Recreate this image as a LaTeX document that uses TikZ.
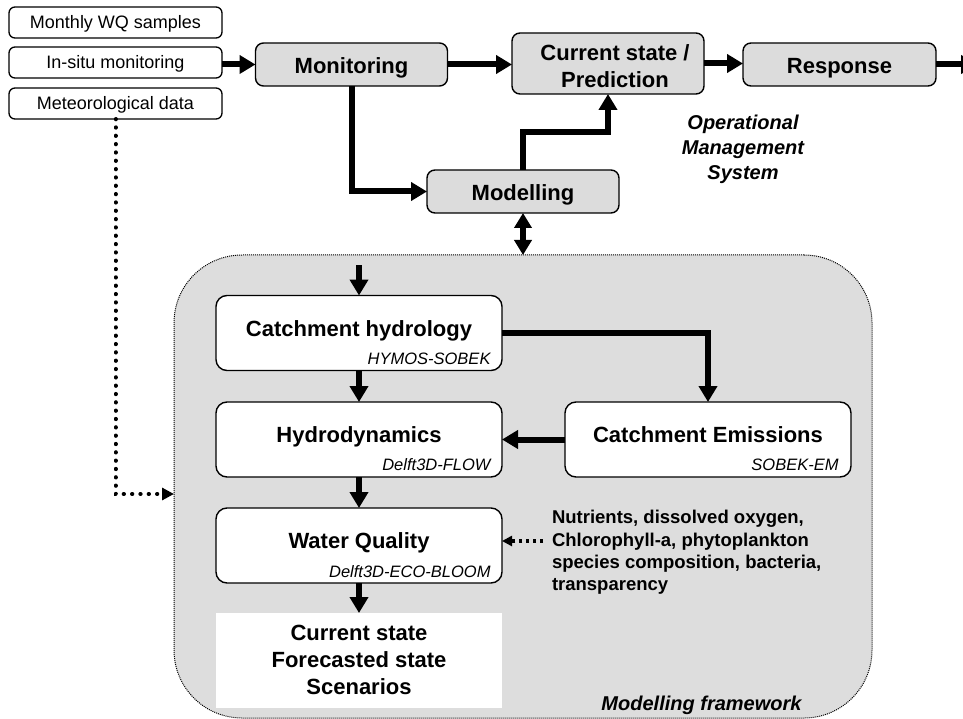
\documentclass[tikz,border=0pt]{standalone}
\usepackage{fontspec}
\setmainfont{Liberation Sans}
\usetikzlibrary{arrows.meta,calc}
\definecolor{boxgray}{RGB}{220,220,220}
\definecolor{framegray}{RGB}{221,221,221}
\tikzset{
  every node/.style={inner sep=0pt, outer sep=0pt},
  srcbox/.style={draw, line width=1.3pt, rounded corners=6pt, fill=white,
    minimum width=213pt, minimum height=31pt,
    font=\fontsize{18}{21}\selectfont, text height=12.9pt, text depth=0pt},
  graybox/.style={draw, line width=1.4pt, rounded corners=8pt, fill=boxgray,
    minimum width=192pt, minimum height=43pt,
    font=\bfseries\fontsize{22}{27}\selectfont, text height=19pt, text depth=0pt},
  modbox/.style={draw, line width=1.4pt, rounded corners=11pt, fill=white,
    minimum width=286pt, minimum height=75pt},
  titletext/.style={font=\bfseries\fontsize{22}{27}\selectfont, text height=15.75pt, text depth=0pt},
  subtext/.style={font=\itshape\fontsize{16.5}{20}\selectfont, text height=11.8pt, text depth=0pt, anchor=east},
  arr/.style={line width=6pt, -{Triangle[length=16pt,width=18pt]}},
  dblarr/.style={line width=6pt, {Triangle[length=15pt,width=17pt]}-{Triangle[length=15pt,width=17pt]}},
  dotarr/.style={line width=4pt, line cap=round, dash pattern=on 0.3pt off 8.03pt, -{Triangle[length=12pt,width=12pt]}},
  sqarr/.style={line width=3.3pt, dash pattern=on 3.3pt off 3.6pt, -{Triangle[length=10pt,width=10pt]}},
}
\begin{document}
\begin{tikzpicture}[x=1pt,y=-1pt]
\useasboundingbox (0,0) rectangle (963,719);

% modelling framework background
\node[draw, fill=framegray, line width=1pt, dash pattern=on 1pt off 1pt,
      rounded corners=68pt, minimum width=698pt, minimum height=463pt] (frame) at (523,486.5) {};
\node[font=\bfseries\itshape\fontsize{20}{24}\selectfont, text height=14.3pt, text depth=0pt] (fwlabel) at (701.5,703.7) {Modelling framework};

% source boxes
\node[srcbox] (monthly) at (115.5,22.5) {Monthly WQ samples};
\node[srcbox] (insitu) at (115.5,62.5) {In-situ monitoring};
\node[srcbox] (meteo) at (115.5,103.5) {Meteorological data};

% operational boxes
\node[graybox] (monitoring) at (351.5,64.5) {Monitoring};
\node[graybox, minimum height=61pt] (current) at (608,63.5) {};
\node[align=center, anchor=north, font=\bfseries\fontsize{22}{27}\selectfont] (curtxt) at (615,44.5) {Current state /\\Prediction};
\node[graybox, minimum width=193pt] (response) at (839.5,64.5) {Response};
\node[graybox] (modelling) at (523,191.5) {Modelling};

\node[align=center, anchor=north, font=\bfseries\itshape\fontsize{20}{25}\selectfont] (oms) at (743,115.5) {Operational\\Management\\System};

\coordinate (out) at (977,64.5);

% operational connectors
\draw[arr] (monitoring.west -| insitu.east) -- (monitoring.west);
\draw[arr] (monitoring.east) -- (monitoring.east -| current.west);
\draw[arr] (current.east) -- (current.east -| response.west);
\draw[arr] (response.east) -- (out);
\draw[arr] (monitoring.south) |- (modelling.west);
\draw[arr] (modelling.north) |- ($(modelling.north)!0.5!(current.south)$) -| (current.south);
\draw[dblarr] (modelling.south) -- (frame.north);

% model boxes
\node[modbox] (ch) at (359,333) {};
\node[titletext] (chtitle) at ([yshift=4pt]ch.center) {Catchment hydrology};
\node[subtext] (chsub) at ([xshift=-11.5pt,yshift=12pt]ch.south east) {HYMOS-SOBEK};

\node[modbox] (hydro) at (359,439.5) {};
\node[titletext] (hydrotitle) at ([yshift=5pt]hydro.center) {Hydrodynamics};
\node[subtext] (hydrosub) at ([xshift=-11.5pt,yshift=12pt]hydro.south east) {Delft3D-FLOW};

\node[modbox] (ce) at (708,439.5) {};
\node[titletext] (cetitle) at ([yshift=5pt]ce.center) {Catchment Emissions};
\node[subtext] (cesub) at ([xshift=-12.5pt,yshift=12.5pt]ce.south east) {SOBEK-EM};

\node[modbox] (wq) at (359,545.5) {};
\node[titletext] (wqtitle) at ([yshift=4.7pt]wq.center) {Water Quality};
\node[subtext] (wqsub) at ([xshift=-11.5pt,yshift=11pt]wq.south east) {Delft3D-ECO-BLOOM};

\node[fill=white, minimum width=286pt, minimum height=95pt] (output) at (359,660.5) {};
\node[align=center, anchor=north, font=\bfseries\fontsize{22}{27}\selectfont] (outtxt) at (359,625.5) {Current state\\Forecasted state\\Scenarios};

\node[align=left, anchor=north west, font=\bfseries\fontsize{18.5}{22.3}\selectfont] (nutr) at (552,510.4)
  {Nutrients, dissolved oxygen,\\Chlorophyll-a, phytoplankton\\species composition, bacteria,\\transparency};

\coordinate (chin) at (359,265);
\coordinate (metin) at (174,494);
\coordinate (nutstart) at (543,541);

% model connectors
\draw[arr] (chin) -- (ch.north);
\draw[arr] (ch.south) -- (hydro.north);
\draw[arr] (ch.east) -| (ce.north);
\draw[arr] (ce.west) -- (hydro.east);
\draw[arr] (hydro.south) -- (wq.north);
\draw[arr] (wq.south) -- (output.north);
\draw[dotarr] (meteo.south) |- (metin);
\draw[sqarr] (nutstart) -- (nutstart -| wq.east);
\end{tikzpicture}
\end{document}
